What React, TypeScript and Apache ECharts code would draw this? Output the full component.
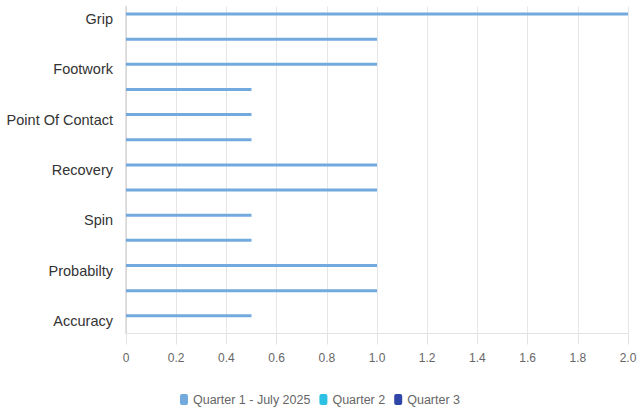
import React, { useEffect, useRef } from "react";
import * as echarts from "echarts";

const categories = [
  "Grip",
  "Stance",
  "Footwork",
  "Timing",
  "Point Of Contact",
  "Balance",
  "Recovery",
  "Power",
  "Spin",
  "Placement",
  "Probabilty",
  "Consistency",
  "Accuracy",
];
const quarter1 = [2, 1, 1, 0.5, 0.5, 0.5, 1, 1, 0.5, 0.5, 1, 1, 0.5];
const quarter2: number[] = [];
const quarter3: number[] = [];
const seriesNames = ["Quarter 1 - July 2025", "Quarter 2", "Quarter 3"];
const colors = ["#72aade", "#2bc0e4", "#2f45a8"];

export default function App() {
  const ref = useRef<HTMLDivElement>(null);
  useEffect(() => {
    if (!ref.current) return;
    const chart = echarts.init(ref.current, null, { renderer: "svg" });
    const font = "'Liberation Sans', Arial, sans-serif";
    chart.setOption({
      animation: false,
      color: colors,
      textStyle: { fontFamily: font },
      grid: { left: 126, right: 12, top: 6.5, bottom: 73.5, containLabel: false },
      legend: {
        top: 388,
        left: "center",
        icon: "roundRect",
        itemWidth: 8,
        itemHeight: 11,
        itemGap: 9,
        textStyle: { color: "#666", fontSize: 12.5, fontFamily: font },
        data: seriesNames,
      },
      xAxis: {
        type: "value",
        min: 0,
        max: 2,
        interval: 0.2,
        axisLine: { show: true, lineStyle: { color: "#e3e3e3" } },
        axisTick: { show: true, length: 11, lineStyle: { color: "#e3e3e3" } },
        splitLine: { show: true, lineStyle: { color: "#e6e6e6" } },
        axisLabel: {
          color: "#666",
          fontSize: 12,
          margin: 18,
          fontFamily: font,
          formatter: (v: number) => (v === 0 ? "0" : v.toFixed(1)),
        },
      },
      yAxis: {
        type: "category",
        inverse: true,
        data: categories,
        axisLine: { show: true, lineStyle: { color: "#d6d6d6", width: 1.5 } },
        axisTick: { show: false },
        splitLine: { show: false },
        axisLabel: {
          interval: 1,
          color: "#333",
          fontSize: 14.5,
          margin: 13,
          fontFamily: font,
        },
      },
      series: [
        { name: seriesNames[0], type: "bar", data: quarter1, barWidth: 3, barGap: "70%" },
        { name: seriesNames[1], type: "bar", data: quarter2, barWidth: 3, barGap: "70%" },
        { name: seriesNames[2], type: "bar", data: quarter3, barWidth: 3, barGap: "70%" },
      ],
    });
    return () => chart.dispose();
  }, []);
  return <div ref={ref} style={{ width: 640, height: 407, position: "absolute", left: 0, top: 0 }} />;
}
